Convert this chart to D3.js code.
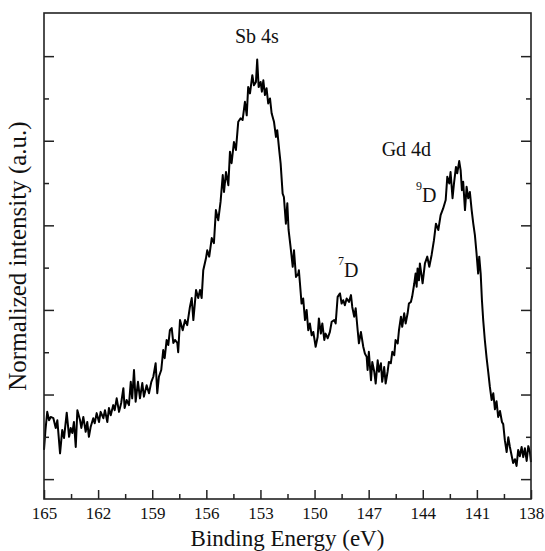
<!DOCTYPE html>
<html>
<head>
<meta charset="utf-8">
<script src="https://cdn.jsdelivr.net/npm/d3@7/dist/d3.min.js"></script>
<style>
  html, body { margin: 0; padding: 0; background: #fff; }
  svg { display: block; }
  svg text { font-family: "Liberation Serif", Tinos, "Times New Roman", Times, serif !important; fill: #111; }
</style>
</head>
<body>
<svg id="chart" width="545" height="551"></svg>
<script>
// Binding energy (eV)
const energy = [
165.00,164.92,164.82,164.72,164.63,164.48,164.35,164.26,164.11,163.99,
163.89,163.74,163.61,163.52,163.43,163.34,163.24,163.15,163.00,162.93,
162.82,162.69,162.60,162.51,162.41,162.27,162.19,162.08,161.95,161.86,
161.71,161.62,161.49,161.40,161.30,161.16,161.08,160.97,160.84,160.72,
160.60,160.53,160.42,160.29,160.19,160.11,160.01,159.92,159.79,159.68,
159.55,159.46,159.31,159.18,159.05,158.94,158.81,158.72,158.63,158.50,
158.39,158.31,158.20,158.11,158.02,157.92,157.83,157.74,157.61,157.56,
157.46,157.31,157.18,157.06,156.91,156.81,156.72,156.57,156.45,156.35,
156.26,156.17,156.02,155.95,155.84,155.70,155.58,155.47,155.34,155.21,
155.09,155.02,154.91,154.78,154.69,154.60,154.47,154.36,154.23,154.10,
153.99,153.86,153.76,153.68,153.58,153.45,153.36,153.25,153.18,153.10,
152.99,152.92,152.84,152.75,152.66,152.57,152.47,152.38,152.25,152.14,
152.07,151.96,151.88,151.77,151.70,151.59,151.51,151.44,151.33,151.21,
151.14,151.03,150.90,150.87,150.81,150.72,150.63,150.53,150.44,150.35,
150.26,150.16,150.07,149.94,149.83,149.76,149.65,149.57,149.46,149.39,
149.27,149.15,149.05,148.91,148.83,148.72,148.59,148.50,148.41,148.32,
148.22,148.09,147.98,147.91,147.80,147.72,147.61,147.54,147.43,147.30,
147.21,147.11,147.06,146.99,146.87,146.80,146.69,146.61,146.50,146.43,
146.32,146.25,146.14,146.06,145.95,145.88,145.77,145.69,145.58,145.51,
145.39,145.32,145.21,145.14,145.03,144.95,144.84,144.77,144.66,144.59,
144.47,144.40,144.34,144.29,144.21,144.16,144.01,143.88,143.75,143.64,
143.51,143.38,143.27,143.14,143.01,142.87,142.73,142.64,142.53,142.46,
142.35,142.27,142.16,142.09,141.98,141.90,141.83,141.76,141.66,141.57,
141.48,141.39,141.29,141.20,141.11,141.02,140.93,140.87,140.79,140.72,
140.65,140.56,140.46,140.37,140.28,140.18,140.09,140.00,139.91,139.82,
139.72,139.61,139.54,139.45,139.35,139.26,139.17,139.08,138.99,138.89,
138.80,138.71,138.62,138.52,138.43,138.34,138.24,138.15,138.06,138.00
];
// Normalized intensity (a.u.)
const intensity = [
0.069,0.116,0.159,0.139,0.147,0.144,0.121,0.139,0.061,0.116,
0.097,0.157,0.100,0.121,0.109,0.135,0.076,0.163,0.139,0.121,
0.147,0.112,0.135,0.100,0.124,0.144,0.132,0.156,0.135,0.159,
0.144,0.163,0.135,0.168,0.151,0.175,0.163,0.191,0.159,0.180,
0.215,0.168,0.187,0.175,0.230,0.191,0.258,0.183,0.230,0.191,
0.227,0.195,0.222,0.203,0.230,0.242,0.274,0.203,0.242,0.258,
0.305,0.286,0.329,0.317,0.352,0.357,0.322,0.329,0.322,0.300,
0.376,0.352,0.376,0.364,0.407,0.428,0.376,0.447,0.428,0.447,
0.428,0.494,0.522,0.541,0.526,0.570,0.558,0.636,0.612,0.656,
0.719,0.679,0.726,0.695,0.774,0.747,0.797,0.778,0.845,0.853,
0.849,0.892,0.860,0.927,0.912,0.955,0.931,0.939,0.992,0.927,
0.939,0.916,0.943,0.908,0.924,0.888,0.900,0.865,0.845,0.809,
0.825,0.778,0.746,0.675,0.667,0.604,0.652,0.589,0.549,0.502,
0.541,0.478,0.486,0.494,0.463,0.415,0.427,0.376,0.400,0.352,
0.368,0.340,0.348,0.313,0.336,0.380,0.344,0.368,0.329,0.344,
0.333,0.348,0.372,0.376,0.368,0.431,0.439,0.415,0.423,0.411,
0.427,0.419,0.435,0.407,0.384,0.404,0.352,0.321,0.348,0.313,
0.297,0.289,0.258,0.301,0.234,0.277,0.254,0.226,0.281,0.254,
0.274,0.230,0.265,0.226,0.254,0.277,0.274,0.301,0.293,0.329,
0.321,0.352,0.384,0.360,0.392,0.368,0.392,0.415,0.419,0.431,
0.463,0.486,0.455,0.498,0.470,0.510,0.463,0.510,0.526,0.502,
0.530,0.565,0.604,0.589,0.624,0.640,0.660,0.715,0.699,0.726,
0.664,0.699,0.738,0.723,0.752,0.730,0.683,0.703,0.636,0.691,
0.664,0.679,0.636,0.604,0.577,0.534,0.486,0.526,0.486,0.423,
0.376,0.329,0.286,0.253,0.218,0.187,0.203,0.165,0.184,0.147,
0.161,0.135,0.130,0.092,0.064,0.099,0.076,0.057,0.038,0.047,
0.031,0.069,0.054,0.076,0.052,0.073,0.043,0.078,0.064,0.040
];
const xMajorTicks = [165,162,159,156,153,150,147,144,141,138];
const xMinorTicks = [163.5,160.5,157.5,154.5,151.5,148.5,145.5,142.5,139.5];
const yMajorTicks = [0,0.2,0.4,0.6,0.8,1.0];
const yMinorTicks = [0.1,0.3,0.5,0.7,0.9];
const annotations = [
  {text:"Sb 4s", sup:"", e:153.2, v:1.03, anchor:"middle"},
  {text:"Gd 4d", sup:"", e:146.28, v:0.764, anchor:"start"},
  {text:"D", sup:"9", e:144.38, v:0.655, anchor:"start"},
  {text:"D", sup:"7", e:148.70, v:0.478, anchor:"start"}
];

const svg = d3.select("#chart");
const L = 44, R = 531, T = 13, B = 499;
const x = d3.scaleLinear().domain([165,138]).range([L,R]);
const y = d3.scaleLinear().domain([-0.047,1.102]).range([B,T]);

const data = energy.map((e,i)=>({e, v: intensity[i]}));

// line
svg.append("path")
  .datum(data)
  .attr("fill","none")
  .attr("stroke","#000")
  .attr("stroke-width",2)
  .attr("stroke-linejoin","round")
  .attr("d", d3.line().x(d=>x(d.e)).y(d=>y(d.v)));

function styleAxis(g){
  g.attr("font-family", null);
  g.select(".domain").remove();
  g.selectAll(".tick line").attr("stroke","#222").attr("stroke-width",1.5);
}

// x axis major
svg.append("g").attr("transform",`translate(0,${B})`)
  .call(d3.axisBottom(x).tickValues(xMajorTicks).tickSize(-9).tickPadding(8).tickFormat(d3.format("d")))
  .call(styleAxis)
  .call(g=>g.selectAll("text").attr("font-size",17).attr("fill","#111"));
svg.append("g").attr("transform",`translate(0,${B})`)
  .call(d3.axisBottom(x).tickValues(xMinorTicks).tickSize(-5).tickFormat(""))
  .call(styleAxis);

// y axes left and right
[[d3.axisLeft, L],[d3.axisRight, R]].forEach(([ax,pos])=>{
  svg.append("g").attr("transform",`translate(${pos},0)`)
    .call(ax(y).tickValues(yMajorTicks).tickSize(-10).tickFormat(""))
    .call(styleAxis);
  svg.append("g").attr("transform",`translate(${pos},0)`)
    .call(ax(y).tickValues(yMinorTicks).tickSize(-5).tickFormat(""))
    .call(styleAxis);
});

// frame
svg.append("rect").attr("x",L).attr("y",T).attr("width",R-L).attr("height",B-T)
  .attr("fill","none").attr("stroke","#222").attr("stroke-width",1.6);

// axis titles
svg.append("text").attr("x",(L+R)/2).attr("y",546).attr("text-anchor","middle")
  .attr("font-size",23).text("Binding Energy (eV)");
svg.append("text").attr("transform",`translate(26,${(T+B)/2}) rotate(-90)`)
  .attr("text-anchor","middle").attr("font-size",25).text("Normalized intensity (a.u.)");

// annotations
annotations.forEach(a=>{
  const t = svg.append("text").attr("x",x(a.e)).attr("y",y(a.v))
    .attr("text-anchor",a.anchor).attr("font-size",20);
  if (a.sup) {
    t.append("tspan").attr("font-size",12).attr("dy",-12).text(a.sup);
    t.append("tspan").attr("dy",12).text(a.text);
  } else {
    t.text(a.text);
  }
});
</script>
</body>
</html>
